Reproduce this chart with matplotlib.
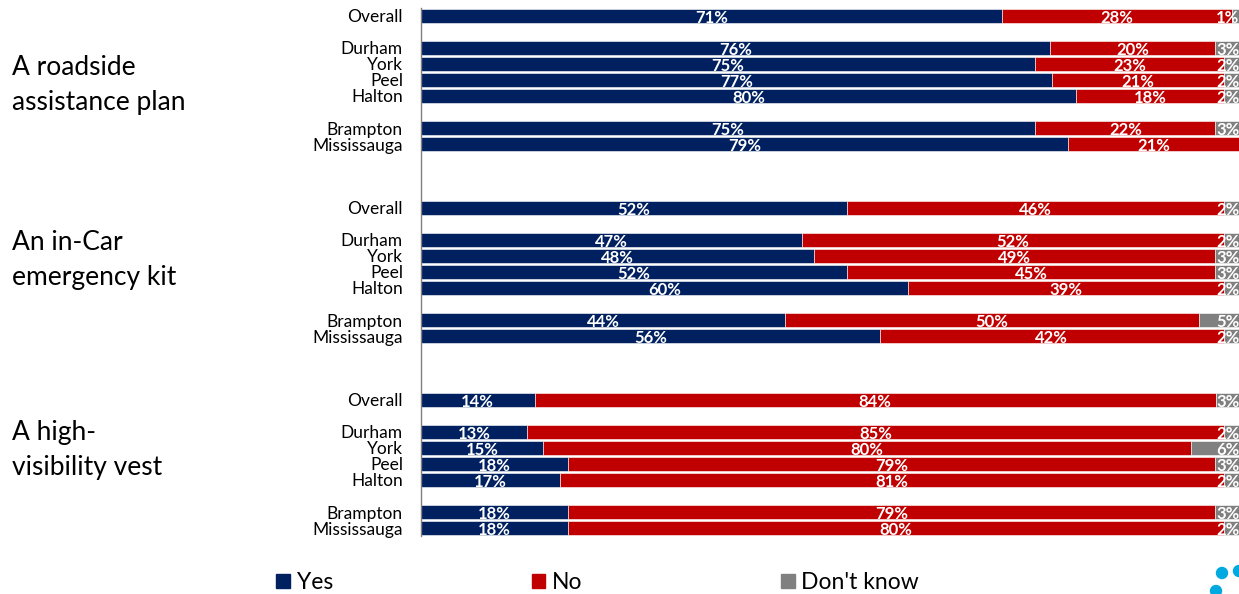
import matplotlib.pyplot as plt
from matplotlib.patches import Patch, Ellipse

plt.rcParams['font.family'] = ['Lato', 'DejaVu Sans']

# Row labels inside each group
regions = ["Overall", "Durham", "York", "Peel", "Halton", "Brampton", "Mississauga"]
groups = ["A roadside\nassistance plan", "An in-Car\nemergency kit", "A high-\nvisibility vest"]

# Percentages per group, in the order of regions
yes = [
    [71, 76, 75, 77, 80, 75, 79],
    [52, 47, 48, 52, 60, 44, 56],
    [14, 13, 15, 18, 17, 18, 18],
]
no = [
    [28, 20, 23, 21, 18, 22, 21],
    [46, 52, 49, 45, 39, 50, 42],
    [84, 85, 80, 79, 81, 79, 80],
]
dont_know = [
    [1, 3, 2, 2, 2, 3, 0],
    [2, 2, 3, 3, 2, 5, 2],
    [3, 2, 6, 3, 2, 3, 2],
]

NAVY = "#002060"
RED = "#C00000"
GRAY = "#808080"

# slot of each region inside a group (empty slots give the gaps)
slots = [0, 2, 3, 4, 5, 7, 8]
group_step = 12
label_offset = [4.3, 3.25, 3.1]
lbl = dict(color="white", fontsize=12, fontweight="bold", va="center")

fig = plt.figure(figsize=(12.39, 5.94), dpi=100)
ax = fig.add_axes([421 / 1239, 1 - 536 / 594, 819 / 1239, 528 / 594])

ypos, ylabels = [], []
for g in range(len(groups)):
    for i, region in enumerate(regions):
        y = g * group_step + slots[i]
        y_, n_, d_ = yes[g][i], no[g][i], dont_know[g][i]
        # rounded labels don't always add to 100, bars fill the full width
        k = 100 / (y_ + n_ + d_)
        ax.barh(y, y_ * k, height=0.82, color=NAVY, edgecolor="white", linewidth=0.4)
        ax.barh(y, n_ * k, left=y_ * k, height=0.82, color=RED, edgecolor="white", linewidth=0.4)
        if d_ > 0:
            ax.barh(y, d_ * k, left=(y_ + n_) * k, height=0.82, color=GRAY,
                    edgecolor="white", linewidth=0.4)
        ax.text(y_ * k / 2, y + 0.1, f"{y_}%", ha="center", **lbl)
        ax.text((y_ + n_ / 2) * k, y + 0.1, f"{n_}%", ha="center", **lbl)
        if d_ > 0:
            ax.text(99.9, y + 0.1, f"{d_}%", ha="right", **lbl)
        ypos.append(y)
        ylabels.append(region)

    fig.text(12 / 1239, 1 - (16 + 16 * (g * group_step + label_offset[g])) / 594,
             groups[g], ha="left", va="center", fontsize=19, linespacing=1.5)

ax.set_xlim(0, 100)
ax.set_ylim(32.5, -0.5)
ax.set_yticks(ypos)
ax.set_yticklabels(ylabels, fontsize=12.5)
ax.tick_params(axis="y", length=0, pad=13)
ax.set_xticks([])
for side in ["top", "right", "bottom"]:
    ax.spines[side].set_visible(False)
ax.spines["left"].set_color("#808080")
ax.spines["left"].set_linewidth(1)

handles = [Patch(color=NAVY, label="Yes"), Patch(color=RED, label="No"),
           Patch(color=GRAY, label="Don't know")]
fig.legend(handles=handles, loc="center", bbox_to_anchor=(0.4825, 0.019), ncol=3,
           frameon=False, fontsize=16.5, handlelength=0.6, handleheight=0.6,
           handletextpad=0.3, columnspacing=8.65, borderaxespad=0)

# small logo dots at the bottom right corner
for cx, cy in [(1222, 573), (1239, 571), (1216, 591)]:
    fig.add_artist(Ellipse((cx / 1239, 1 - cy / 594), 11 / 1239, 11 / 594,
                           color="#00A9E0", transform=fig.transFigure))

fig.savefig("out.png", dpi=100)
